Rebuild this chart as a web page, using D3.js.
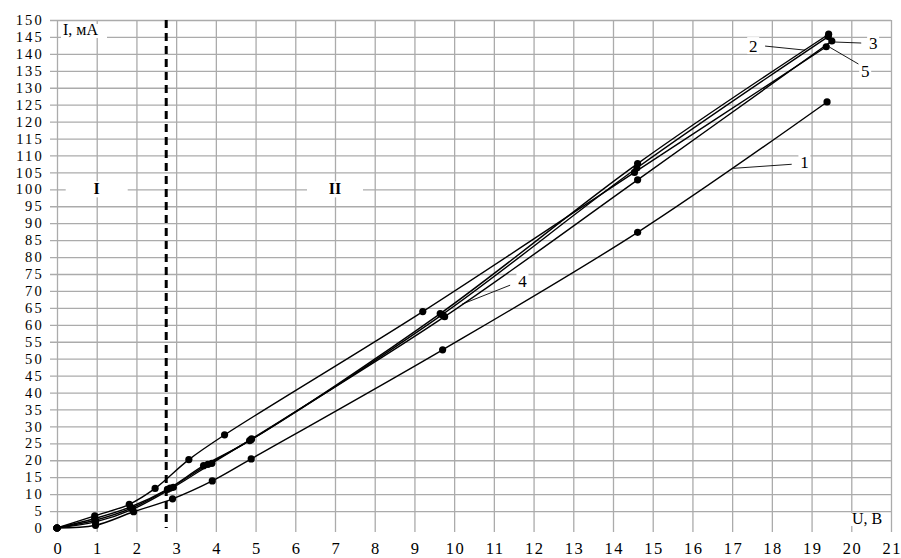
<!DOCTYPE html>
<html><head><meta charset="utf-8">
<script src="https://cdn.jsdelivr.net/npm/d3@7"></script>
<style>
html,body{margin:0;padding:0;background:#fff;}
svg text{font-family:"Liberation Serif","DejaVu Serif",serif;fill:#000;}
</style></head>
<body><svg id="c" width="901" height="558"></svg>
<script>
// ---- data (U in volts, I in mA) ----
const xTicks = d3.range(0, 22, 1);
const yTicks = d3.range(0, 155, 5);
const series1 = [[0,0],[0.97,0.8],[1.93,4.8],[2.91,8.6],[3.91,13.9],[4.89,20.4],[9.71,52.6],[14.62,87.3],[19.39,125.8]];
const series2 = [[0,0],[0.95,2.8],[1.85,6.2],[2.78,11.4],[3.69,18.4],[4.85,25.8],[9.65,63.3],[14.62,107.6],[19.43,145.8]];
const series3 = [[0,0],[0.97,1.8],[1.9,5.5],[2.93,12.0],[3.9,19.1],[4.9,26.3],[9.76,62.4],[14.62,102.8],[19.51,143.8]];
const series4 = [[0,0],[0.96,2.3],[1.88,5.9],[2.85,11.8],[3.8,18.8],[4.88,26.0],[9.7,63.0],[14.6,106.3],[19.42,145.1]];
const series5 = [[0,0],[0.95,3.6],[1.82,7.0],[2.47,11.7],[3.32,20.2],[4.22,27.5],[9.21,63.9],[14.54,105.0],[19.37,142.1]];
const allSeries = [series1, series2, series3, series4, series5];
const boundaryU = 2.75;
// labels: [text, labelU, labelI, leaderFromU, leaderFromI, leaderToU, leaderToI]
const curveLabels = [
  ["1", 18.82, 108.1, 18.5, 107.4, 17.03, 106.2],
  ["2", 17.53, 142.3, 17.83, 142.3, 18.84, 141.1],
  ["3", 20.55, 143.2, 20.25, 143.2, 19.57, 143.5],
  ["5", 20.35, 135.0, 20.18, 137.0, 19.45, 142.0],
  ["4", 11.72, 72.9, 11.41, 71.7, 10.2, 66.1]
];
const regionLabels = [["I", 1.0, 100], ["II", 7.0, 100]];
const yTitle = "I, мА";
const xTitle = "U, В";

// ---- drawing ----
const svg = d3.select("#c");
const x = d3.scaleLinear().domain([0, 21]).range([57, 891]);
const y = d3.scaleLinear().domain([0, 150]).range([528, 20]);
const gridColor = "#ababab";

// vertical grid + x labels
const gx = svg.append("g").attr("transform", "translate(0,532)")
  .call(d3.axisBottom(x).tickValues(xTicks).tickSize(-(532 - 20)).tickPadding(10).tickFormat(d3.format("d")));
gx.select(".domain").remove();
gx.selectAll(".tick line").attr("stroke", gridColor).attr("stroke-width", 1.3);
gx.selectAll(".tick text").attr("font-size", 16.5).attr("letter-spacing", "1.5px").attr("dx", "0.75px")
  .attr("font-family", "Liberation Serif").attr("fill", "#000");

// horizontal grid + y labels
const gy = svg.append("g").attr("transform", "translate(50,0)")
  .call(d3.axisLeft(y).tickValues(yTicks).tickSize(-(891 - 50)).tickPadding(6).tickFormat(d3.format("d")));
gy.select(".domain").remove();
gy.selectAll(".tick line").attr("stroke", gridColor).attr("stroke-width", 1.3)
  .attr("display", d => d === 0 ? "none" : null);
gy.selectAll(".tick text").attr("font-size", 14.5).attr("letter-spacing", "2.2px")
  .attr("font-family", "Liberation Serif").attr("fill", "#000");

// region labels with white boxes
regionLabels.forEach(([t, u, i]) => {
  const w = t === "I" ? 62 : 56;
  svg.append("rect").attr("x", x(u) - w / 2).attr("y", y(i) - 8).attr("width", w).attr("height", 16).attr("fill", "#fff");
  svg.append("text").attr("x", x(u)).attr("y", y(i) + 5).attr("text-anchor", "middle")
    .attr("font-size", 16).attr("font-weight", "bold").text(t);
});

// axis titles
svg.append("rect").attr("x", 61).attr("y", 24).attr("width", 46).attr("height", 14).attr("fill", "#fff");
svg.append("text").attr("x", 63).attr("y", 35).attr("font-size", 16).text(yTitle);
svg.append("rect").attr("x", 850).attr("y", 513).attr("width", 39).attr("height", 13).attr("fill", "#fff");
svg.append("text").attr("x", 852).attr("y", 524).attr("font-size", 16).text(xTitle);

// boundary dashed line
svg.append("line").attr("x1", x(boundaryU)).attr("x2", x(boundaryU)).attr("y1", y(150)).attr("y2", y(0))
  .attr("stroke", "#000").attr("stroke-width", 3).attr("stroke-dasharray", "8,5");

// series
const line = d3.line().x(d => x(d[0])).y(d => y(d[1])).curve(d3.curveCatmullRom.alpha(0.5));
allSeries.forEach(s => {
  svg.append("path").datum(s).attr("d", line).attr("fill", "none").attr("stroke", "#000").attr("stroke-width", 1.4);
});
allSeries.forEach(s => {
  svg.append("g").selectAll("circle").data(s).join("circle")
    .attr("cx", d => x(d[0])).attr("cy", d => y(d[1])).attr("r", 3.6).attr("fill", "#000");
});

// curve labels with leaders
curveLabels.forEach(([t, lu, li, fu, fi, tu, ti]) => {
  svg.append("line").attr("x1", x(fu)).attr("y1", y(fi)).attr("x2", x(tu)).attr("y2", y(ti))
    .attr("stroke", "#000").attr("stroke-width", 0.9);
  svg.append("rect").attr("x", x(lu) - 6).attr("y", y(li) - 9).attr("width", 12).attr("height", 17).attr("fill", "#fff");
  svg.append("text").attr("x", x(lu)).attr("y", y(li) + 6).attr("text-anchor", "middle").attr("font-size", 17).text(t);
});
</script></body></html>
